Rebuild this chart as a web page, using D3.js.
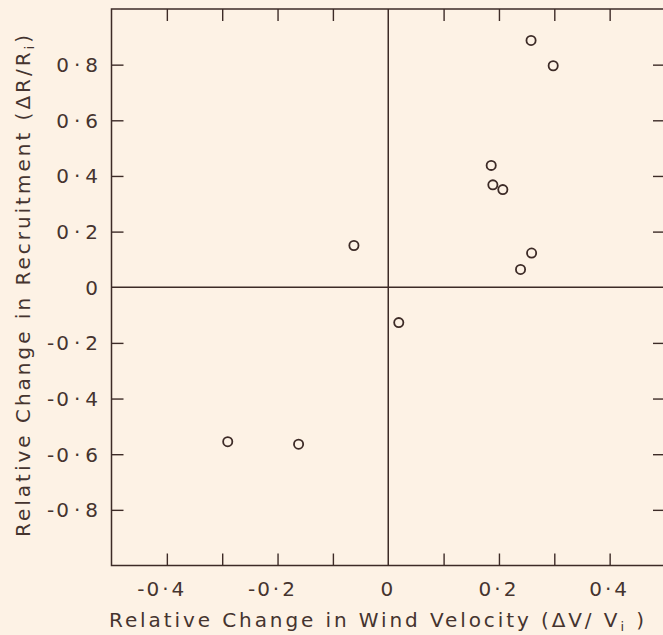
<!DOCTYPE html>
<html>
<head>
<meta charset="utf-8">
<script src="https://cdn.jsdelivr.net/npm/d3@7"></script>
<style>
  html, body { margin: 0; padding: 0; background: #fdf2e5; }
  svg { display: block; }
  .lbl { font-family: "DejaVu Sans", sans-serif; font-size: 20px; fill: #45342f; }
  .title { font-family: "DejaVu Sans", sans-serif; font-size: 20px; fill: #45342f; }
</style>
</head>
<body>
<div id="chart"></div>
<script>
// relative change in wind velocity (dV/Vi) and in recruitment (dR/Ri)
let windChange    = [0.258, 0.298, 0.186, 0.189, 0.207, 0.259, 0.239, -0.062, 0.019, -0.290, -0.162];
let recruitChange = [0.887, 0.796, 0.438, 0.368, 0.351, 0.123, 0.064, 0.150, -0.127, -0.555, -0.564];

let xTicks = [-0.4, -0.3, -0.2, -0.1, 0.1, 0.2, 0.3, 0.4];
let xLabels = [-0.4, -0.2, 0, 0.2, 0.4];
let yTicks = [-0.8, -0.6, -0.4, -0.2, 0.2, 0.4, 0.6, 0.8];
let yLabels = [-0.8, -0.6, -0.4, -0.2, 0, 0.2, 0.4, 0.6, 0.8];

let margin = {top: 9, right: -2, left: 111.5, bottom: 69.5};
let W = 663, H = 635;
let width = W - margin.left - margin.right;
let height = H - margin.top - margin.bottom;
let ink = "#3d2b27";

let svg = d3.select("#chart")
    .append("svg")
    .attr("width", W)
    .attr("height", H);

let g = svg.append("g")
    .attr("transform", "translate(" + margin.left + "," + margin.top + ")");

let x = d3.scaleLinear().domain([-0.5, 0.5]).range([0, width]);
let y = d3.scaleLinear().domain([-1, 1]).range([height, 0]);

// unsigned label, the minus is drawn on its own
let fmt = function(d) {
    if (Math.abs(d) < 1e-9) return "0";
    return Math.abs(d).toFixed(1).replace(".", "·");
};

// inward ticks on all four sides
let tickLen = 12;
function styleTicks(sel) {
    sel.select(".domain").remove();
    sel.selectAll(".tick line").attr("stroke", ink).attr("stroke-width", 1.4);
    sel.selectAll(".tick text").remove();
}
g.append("g").attr("transform", "translate(0," + height + ")")
    .call(d3.axisBottom(x).tickValues(xTicks).tickSize(-tickLen)).call(styleTicks);
g.append("g")
    .call(d3.axisTop(x).tickValues(xTicks).tickSize(-tickLen)).call(styleTicks);
g.append("g")
    .call(d3.axisLeft(y).tickValues(yTicks).tickSize(-tickLen)).call(styleTicks);
g.append("g").attr("transform", "translate(" + width + ",0)")
    .call(d3.axisRight(y).tickValues(yTicks).tickSize(-tickLen)).call(styleTicks);

// frame
g.append("rect")
    .attr("x", 0).attr("y", 0)
    .attr("width", width).attr("height", height)
    .attr("fill", "none")
    .attr("stroke", ink)
    .attr("stroke-width", 1.5);

// zero lines
g.append("line")
    .attr("x1", x(0)).attr("x2", x(0))
    .attr("y1", 0).attr("y2", height)
    .attr("stroke", ink).attr("stroke-width", 1.5);
g.append("line")
    .attr("x1", 0).attr("x2", width)
    .attr("y1", y(0)).attr("y2", y(0))
    .attr("stroke", ink).attr("stroke-width", 1.5);

// x tick labels: number centred on tick, minus hanging to the left
let xl = g.selectAll(".xlab")
    .data(xLabels)
    .enter()
    .append("g")
    .attr("class", "xlab")
    .attr("transform", d => "translate(" + x(d) + "," + (height + 30.5) + ")");
xl.append("text")
    .attr("class", "lbl")
    .attr("text-anchor", "middle")
    .attr("letter-spacing", "3px")
    .text(d => fmt(d));
xl.filter(d => d < 0).append("text")
    .attr("class", "lbl")
    .attr("text-anchor", "end")
    .attr("x", function() {
        let w = this.parentNode.querySelector("text").getComputedTextLength();
        return -w / 2 - 2;
    })
    .text("-");

// y tick labels, right aligned
let yl = g.selectAll(".ylab")
    .data(yLabels)
    .enter()
    .append("g")
    .attr("class", "ylab")
    .attr("transform", d => "translate(-13.5," + (y(d) + 7.5) + ")");
yl.append("text")
    .attr("class", "lbl")
    .attr("text-anchor", "end")
    .attr("letter-spacing", "5px")
    .attr("x", 5)
    .text(d => fmt(d));
yl.filter(d => d < 0).append("text")
    .attr("class", "lbl")
    .attr("text-anchor", "end")
    .attr("x", function() {
        let w = this.parentNode.querySelector("text").getComputedTextLength();
        return 5 - w - 2;
    })
    .text("-");

// points
g.selectAll("circle")
    .data(windChange)
    .enter()
    .append("circle")
    .attr("cx", d => x(d))
    .attr("cy", (d, i) => y(recruitChange[i]))
    .attr("r", 4.6)
    .attr("fill", "none")
    .attr("stroke", ink)
    .attr("stroke-width", 1.8);

// axis titles, spread to the width they take in the print
function spread(t, target) {
    let n = t.text().length;
    let w = t.node().getComputedTextLength();
    t.attr("letter-spacing", ((target - w) / (n - 1)) + "px");
}

let xt = svg.append("text")
    .attr("class", "title")
    .attr("x", 109)
    .attr("y", 627);
xt.append("tspan").text("Relative Change in Wind Velocity (ΔV/ V");
xt.append("tspan").attr("font-size", "13px").attr("dy", 4).text("i");
xt.append("tspan").attr("dy", -4).text(" )");
spread(xt, 535);

let yt = svg.append("text")
    .attr("class", "title")
    .attr("transform", "translate(30,537) rotate(-90)");
yt.append("tspan").text("Relative Change in Recruitment (ΔR/R");
yt.append("tspan").attr("font-size", "13px").attr("dy", 4).text("i");
yt.append("tspan").attr("dy", -4).text(")");
spread(yt, 502);
</script>
</body>
</html>
